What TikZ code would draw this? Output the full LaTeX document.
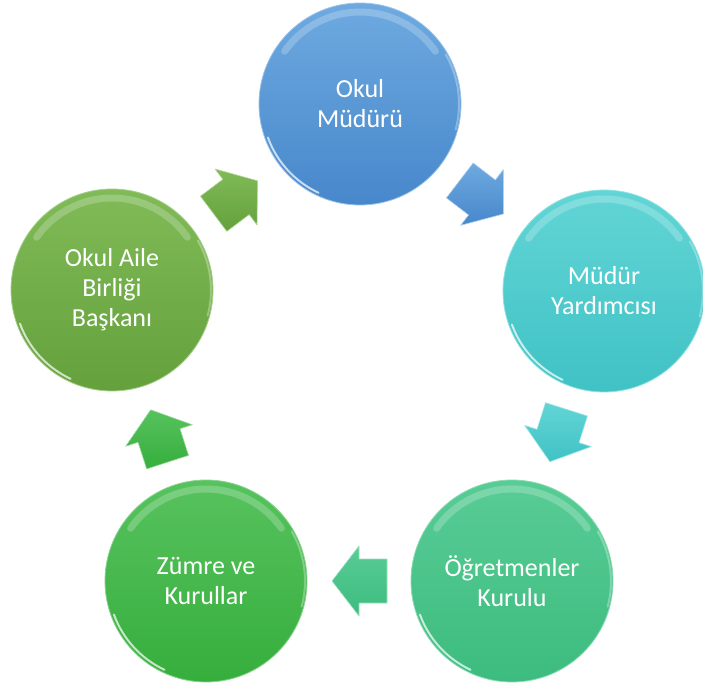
\documentclass[tikz,border=0pt]{standalone}
\usepackage{fontspec}
\setmainfont{Carlito}
\usetikzlibrary{calc}
\definecolor{blueT}{HTML}{6EAAE0}
\definecolor{blueB}{HTML}{4787CB}
\definecolor{cyanT}{HTML}{62D5D5}
\definecolor{cyanB}{HTML}{40C2C5}
\definecolor{tealT}{HTML}{58CC95}
\definecolor{tealB}{HTML}{3DBC7F}
\definecolor{greenT}{HTML}{57C25E}
\definecolor{greenB}{HTML}{36AE3D}
\definecolor{oliveT}{HTML}{80BB58}
\definecolor{oliveB}{HTML}{64A03C}
\tikzset{
  bubble/.style={circle, minimum size=202pt, inner sep=0pt, text=white, align=center,
    font=\fontsize{26}{30}\selectfont, line width=0.8pt},
  glosstop/.style={white, line cap=round, opacity=0.22, line width=7pt},
  glossrim/.style={white, line cap=round, opacity=0.7, line width=2pt},
}
\begin{document}
\begin{tikzpicture}[x=1pt,y=1pt]
\useasboundingbox (0,0) rectangle (703,683);
\node[bubble, top color=blueT, bottom color=blueB, draw=blueT!70!white] (A) at (360,579) {Okul\\Müdürü};
\node[bubble, top color=cyanT, bottom color=cyanB, draw=cyanT!70!white] (B) at (604,392) {Müdür\\Yardımcısı};
\node[bubble, top color=tealT, bottom color=tealB, draw=tealT!70!white] (C) at (512,102) {Öğretmenler\\Kurulu};
\node[bubble, top color=greenT, bottom color=greenB, draw=greenT!70!white] (D) at (206,102) {Zümre ve\\Kurullar};
\node[bubble, top color=oliveT, bottom color=oliveB, draw=oliveT!70!white] (E) at (112,393) {Okul Aile\\Birliği\\Başkanı};
\foreach \n in {A,B,C,D,E}{
  \draw[glosstop] (\n.center) ++(145:92) arc[start angle=145, end angle=35, radius=92];
  \draw[glossrim] (\n.center) ++(200:98) arc[start angle=200, end angle=245, radius=98];
  \draw[glossrim, opacity=0.3] (\n.center) ++(30:99) arc[start angle=30, end angle=-15, radius=99];
}
\foreach \s/\t/\c in {A/B/blue, B/C/cyan, C/D/teal, D/E/green, E/A/olive}{
  \pgfmathanglebetweenpoints{\pgfpointanchor{\s}{center}}{\pgfpointanchor{\t}{center}}
  \let\arrang\pgfmathresult
  \begin{scope}[shift={($(\s)!0.5!(\t)$)}, rotate=\arrang]
    \coordinate (arr\s) at (0,0);
    \shade[top color=\c T, bottom color=\c B, draw=\c T!60!white, line width=0.6pt, line join=round]
      (-28,-22) -- (0,-22) -- (0,-35) -- (27,0) -- (0,35) -- (0,22) -- (-28,22) -- cycle;
  \end{scope}
}
\end{tikzpicture}
\end{document}
